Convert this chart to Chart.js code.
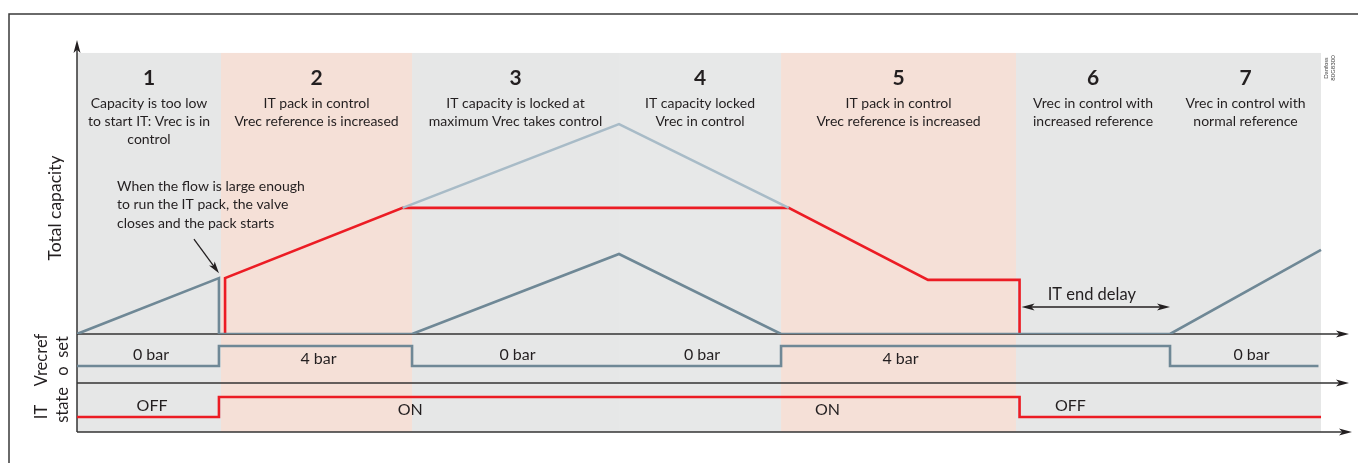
<!DOCTYPE html>
<html>
<head>
<meta charset="utf-8">
<script src="https://cdn.jsdelivr.net/npm/chart.js@4/dist/chart.umd.min.js"></script>
<style>
    html, body { margin: 0; padding: 0; background: #ffffff; }
    #wrap { width: 1358px; height: 463px; }
</style>
</head>
<body>
<div id="wrap"><canvas id="chart-it" width="1358" height="463"></canvas></div>
<script>
// phases along the time axis (0..100 time units)
const phaseNumbers = ['1', '2', '3', '4', '5', '6', '7'];
const phaseStarts = [0, 11.32, 26.34, 42.61, 55.35, 73.82, 85.93];
const phaseEnd = 97.8;
const phaseKinds = ['vrec', 'it', 'vrec', 'vrec', 'it', 'vrec', 'vrec'];
const phaseNotes = [
    ['Capacity is too low', 'to start IT: Vrec is in', 'control'],
    ['IT pack in control', 'Vrec reference is increased'],
    ['IT capacity is locked at', 'maximum Vrec takes control'],
    ['IT capacity locked', 'Vrec in control'],
    ['IT pack in control', 'Vrec reference is increased'],
    ['Vrec in control with', 'increased reference'],
    ['Vrec in control with', 'normal reference'],
];

// total capacity panel (capacity units 0..100)
const vrecCapX = [0, 11.16, 11.16, 26.34, 42.61, 55.35, 85.93, 97.8];
const vrecCapY = [0, 19.0, 0, 0, 27.2, 0, 0, 28.6];
const itCapX = [11.64, 11.64, 25.6, 55.95, 66.9, 74.1, 74.1];
const itCapY = [0, 19.0, 42.9, 42.9, 18.4, 18.4, 0];
const totalCapX = [25.6, 42.61, 55.95];
const totalCapY = [42.9, 71.4, 42.9];

// Vrec reference offset panel (bar)
const offsetX = [0, 11.16, 11.16, 26.34, 26.34, 55.35, 55.35, 85.93, 85.93, 97.6];
const offsetBar = [0, 0, 4, 4, 0, 0, 4, 4, 0, 0];
const offsetLabels = ['0 bar', '4 bar', '0 bar', '0 bar', '4 bar', '', '0 bar'];

// IT state panel (0 = OFF, 1 = ON)
const stateX = [0, 11.16, 11.16, 74.1, 74.1, 97.8];
const stateOn = [0, 0, 1, 1, 0, 0];
const stateLabelX = [5.9, 26.2, 59.0, 78.1];
const stateLabelText = ['OFF', 'ON', 'ON', 'OFF'];

const FONT = 'Lato, "Open Sans", sans-serif';
const INK = '#231f20';
const C_GRAY = '#6f8896';
const C_LIGHT = '#a8bbc7';
const C_RED = '#ec1c24';

function pts(xs, ys) {
    return xs.map(function (x, i) { return { x: x, y: ys[i] }; });
}

function arrowHead(ctx, x, y, ang, len, half) {
    ctx.save();
    ctx.translate(x, y);
    ctx.rotate(ang);
    ctx.beginPath();
    ctx.moveTo(0, 0);
    ctx.lineTo(-len, -half);
    ctx.lineTo(-len * 0.75, 0);
    ctx.lineTo(-len, half);
    ctx.closePath();
    ctx.fill();
    ctx.restore();
}

function rotText(ctx, txt, x, y, size) {
    ctx.save();
    ctx.translate(x, y);
    ctx.rotate(-Math.PI / 2);
    ctx.font = size + 'px ' + FONT;
    ctx.textAlign = 'center';
    ctx.textBaseline = 'middle';
    ctx.fillText(txt, 0, 0);
    ctx.restore();
}

const diagram = {
    id: 'diagram',
    beforeDatasetsDraw: function (chart) {
        const ctx = chart.ctx;
        const xs = chart.scales.x;
        const cap = chart.scales.cap;
        const st = chart.scales.st;
        const area = chart.chartArea;

        ctx.save();
        // outer frame
        ctx.strokeStyle = '#3a3a3a';
        ctx.lineWidth = 1.5;
        ctx.beginPath();
        ctx.moveTo(9, 463);
        ctx.lineTo(9, 14);
        ctx.lineTo(1358, 14);
        ctx.stroke();

        // phase bands
        const bandTop = cap.getPixelForValue(95.6);
        phaseStarts.forEach(function (s, i) {
            const e = i + 1 < phaseStarts.length ? phaseStarts[i + 1] : phaseEnd;
            const x0 = xs.getPixelForValue(s);
            const x1 = xs.getPixelForValue(e);
            ctx.fillStyle = phaseKinds[i] === 'it' ? '#f5e0d7' : (i === 3 ? '#e7e8e8' : '#e6e7e7');
            ctx.fillRect(x0, bandTop, x1 - x0, area.bottom - bandTop);
        });

        // axes
        ctx.strokeStyle = '#333333';
        ctx.fillStyle = '#231f20';
        ctx.lineWidth = 1.5;
        const left = area.left;
        const rows = [cap.getPixelForValue(0), st.top, st.bottom];
        rows.forEach(function (y, i) {
            const end = i === 2 ? area.right + 3 : area.right;
            ctx.beginPath();
            ctx.moveTo(left, y);
            ctx.lineTo(end - 8, y);
            ctx.stroke();
            arrowHead(ctx, end, y, 0, 13, 3.5);
        });
        ctx.beginPath();
        ctx.moveTo(left, area.bottom);
        ctx.lineTo(left, area.top + 8);
        ctx.stroke();
        arrowHead(ctx, left, area.top, -Math.PI / 2, 13, 3.5);
        ctx.restore();
    },
    afterDatasetsDraw: function (chart) {
        const ctx = chart.ctx;
        const xs = chart.scales.x;
        const cap = chart.scales.cap;
        const off = chart.scales.off;
        const st = chart.scales.st;
        ctx.save();
        ctx.fillStyle = INK;
        ctx.textAlign = 'center';
        ctx.textBaseline = 'middle';

        phaseStarts.forEach(function (s, i) {
            const e = i + 1 < phaseStarts.length ? phaseStarts[i + 1] : phaseEnd;
            const cx = (xs.getPixelForValue(s) + xs.getPixelForValue(e)) / 2;
            ctx.font = 'bold 21px ' + FONT;
            ctx.fillText(phaseNumbers[i], cx, 78);
            ctx.font = '14px ' + FONT;
            phaseNotes[i].forEach(function (line, j) {
                ctx.fillText(line, cx, 103 + j * 18);
            });
            // offset label for this phase
            if (offsetLabels[i]) {
                const v = offsetLabels[i].charAt(0) === '4' ? 4 : 0;
                const ly = off.getPixelForValue(v) + (v === 4 ? 13 : -11);
                ctx.font = '16px ' + FONT;
                ctx.fillText(offsetLabels[i], cx + (i === 6 ? 6 : 2), ly);
            }
        });

        // IT state labels
        ctx.font = '16px ' + FONT;
        stateLabelText.forEach(function (t, i) {
            const on = t === 'ON';
            const ly = st.getPixelForValue(on ? 1 : 0) + (on ? 13 : -11);
            ctx.fillText(t, xs.getPixelForValue(stateLabelX[i]), ly);
        });

        // annotation about the pack start
        ctx.font = '14px ' + FONT;
        ctx.textAlign = 'left';
        ['When the flow is large enough', 'to run the IT pack, the valve', 'closes and the pack starts']
            .forEach(function (line, j) {
                ctx.fillText(line, 117, 186 + j * 18.5);
            });
        ctx.strokeStyle = INK;
        ctx.lineWidth = 1.3;
        const tipX = xs.getPixelForValue(11.16);
        const tipY = cap.getPixelForValue(19.0) - 5;
        ctx.beginPath();
        ctx.moveTo(tipX - 25, tipY - 34);
        ctx.lineTo(tipX - 3, tipY - 4);
        ctx.stroke();
        arrowHead(ctx, tipX, tipY, Math.atan2(34, 25), 12, 3.5);

        // IT end delay
        const dx0 = xs.getPixelForValue(74.1) + 2;
        const dx1 = xs.getPixelForValue(85.93);
        const dy = cap.getPixelForValue(0) - 27;
        ctx.beginPath();
        ctx.moveTo(dx0 + 8, dy);
        ctx.lineTo(dx1 - 8, dy);
        ctx.stroke();
        arrowHead(ctx, dx1, dy, 0, 13, 3.5);
        arrowHead(ctx, dx0, dy, Math.PI, 13, 3.5);
        ctx.textAlign = 'center';
        ctx.font = '16.5px ' + FONT;
        ctx.fillText('IT end delay', (dx0 + dx1) / 2 - 4, dy - 12);

        // axis titles
        rotText(ctx, 'Total capacity', 55, 208, 17.5);
        rotText(ctx, 'Vrecref', 42, 360, 16.5);
        rotText(ctx, 'IT', 42, 412, 16.5);
        rotText(ctx, 'set', 63, 347, 16.5);
        rotText(ctx, 'o', 63, 371, 16.5);
        rotText(ctx, 'state', 63, 405, 16.5);

        // drawing reference
        ctx.fillStyle = '#444444';
        rotText(ctx, 'Danfoss', 1326, 68, 6);
        rotText(ctx, '80G8300', 1333, 68, 6);
        ctx.restore();
    },
};

function lineSet(label, data, color, axis) {
    return {
        label: label,
        data: data,
        yAxisID: axis,
        borderColor: color,
        backgroundColor: color,
        borderWidth: 2.6,
        showLine: true,
        pointRadius: 0,
        tension: 0,
        borderJoinStyle: 'miter',
    };
}

new Chart(document.getElementById('chart-it').getContext('2d'), {
    type: 'scatter',
    data: {
        datasets: [
            lineSet('Total capacity', pts(totalCapX, totalCapY), C_LIGHT, 'cap'),
            lineSet('Vrec capacity', pts(vrecCapX, vrecCapY), C_GRAY, 'cap'),
            lineSet('IT capacity', pts(itCapX, itCapY), C_RED, 'cap'),
            lineSet('Vrecref offset', pts(offsetX, offsetBar), C_GRAY, 'off'),
            lineSet('IT state', pts(stateX, stateOn), C_RED, 'st'),
        ],
    },
    options: {
        responsive: false,
        animation: false,
        devicePixelRatio: 1,
        layout: { padding: { left: 77, right: 9, top: 40, bottom: 31 } },
        plugins: { legend: { display: false }, tooltip: { enabled: false } },
        scales: {
            x: { type: 'linear', min: 0, max: 100, display: false },
            cap: { type: 'linear', position: 'left', stack: 'rows', stackWeight: 294, weight: 3, min: 0, max: 100, display: false },
            off: { type: 'linear', position: 'left', stack: 'rows', stackWeight: 49, weight: 2, min: -3.4, max: 6.4, display: false },
            st: { type: 'linear', position: 'left', stack: 'rows', stackWeight: 49, weight: 1, min: -0.75, max: 1.7, display: false },
        },
    },
    plugins: [diagram],
});
</script>
</body>
</html>
